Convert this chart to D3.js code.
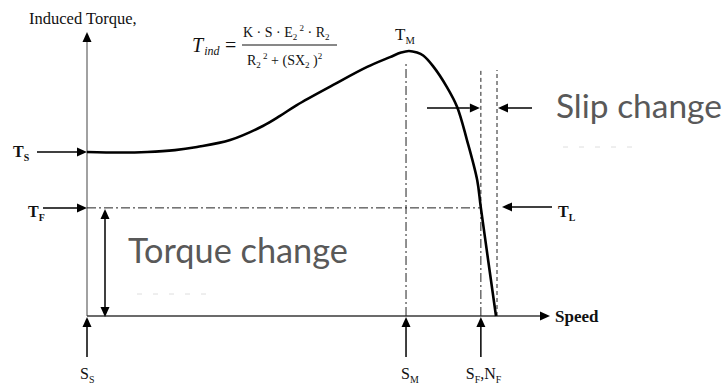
<!DOCTYPE html>
<html>
<head>
<meta charset="utf-8">
<script src="https://cdn.jsdelivr.net/npm/d3@7"></script>
<style>
  html, body { margin: 0; padding: 0; background: #fff; }
  svg { display: block; }
</style>
</head>
<body>
<svg id="chart" width="725" height="387"></svg>
<script>
// Torque–speed characteristic of an induction motor.
// Speed in % of synchronous speed, torque in % of the peak (breakdown) torque.
const speed  = [0, 8.1, 14.7, 21.5, 26.9, 35.0, 43.0, 47.2, 51.3, 60.2, 68.5, 74.1, 76.8, 78.7, 80.7, 82.2, 84.6, 88.0, 90.5, 92.9, 95.4, 96.3, 100];
const torque = [61.9, 61.7, 61.9, 62.6, 63.8, 66.4, 71.7, 75.5, 79.6, 87.2, 94.0, 97.7, 99.4, 100, 99.4, 98.3, 94.3, 86.4, 78.9, 66.4, 51.3, 40.8, 0];

// Characteristic speeds marked on the speed axis
const speedMarks  = ["S_S", "S_M", "S_F,N_F"];
const speedValues = [0, 78.0, 96.3];
const syncSpeed   = 100;

// Characteristic torques marked on the torque axis
const torqueMarks  = ["T_S", "T_F"];
const torqueValues = [61.9, 40.8];
const peakTorque   = 100;

const speedAxisMax  = 113.2;
const torqueAxisMax = 107.2;

const svg = d3.select("#chart");
const x = d3.scaleLinear().domain([0, 100]).range([87, 496]);
const y = d3.scaleLinear().domain([0, 100]).range([316, 51]);

const serif = "'Liberation Serif', 'Times New Roman', serif";
const sans = "Lato, 'Open Sans', sans-serif";

// line with a filled triangular head at (x2, y2)
function arrow(x1, y1, x2, y2, opts = {}) {
  const len = opts.len || 10, hw = opts.hw || 4.5;
  const dx = x2 - x1, dy = y2 - y1, d = Math.hypot(dx, dy);
  const ux = dx / d, uy = dy / d;
  const bx = x2 - ux * len, by = y2 - uy * len;
  svg.append("line")
    .attr("x1", x1).attr("y1", y1).attr("x2", bx).attr("y2", by)
    .attr("stroke", opts.stroke || "#000").attr("stroke-width", opts.width || 1.5);
  svg.append("path")
    .attr("d", `M${x2},${y2}L${bx - uy * hw},${by + ux * hw}L${bx + uy * hw},${by - ux * hw}Z`)
    .attr("fill", "#000");
}

// label with a subscript, e.g. "T_S" → T with S lowered
function subLabel(str, px, py, size, bold, anchor = "start") {
  const t = svg.append("text")
    .attr("x", px).attr("y", py)
    .attr("font-family", serif)
    .attr("font-size", size)
    .attr("font-weight", bold ? "bold" : "normal")
    .attr("text-anchor", anchor)
    .attr("fill", "#111");
  let shift = 0;
  str.split(",").forEach((p, i) => {
    const [base, sub] = p.split("_");
    if (i > 0) { t.append("tspan").attr("dy", -shift).text(","); shift = 0; }
    t.append("tspan").attr("dy", -shift || null).text(base);
    shift = 0;
    if (sub) { t.append("tspan").attr("font-size", size * 0.62).attr("dy", 4).text(sub); shift = 4; }
  });
  return t;
}

// ---- axes ----
const x0 = x(0), y0 = y(0);
arrow(x0, y0, x0, y(torqueAxisMax), { stroke: "#8a8a8a", width: 1.6 });
arrow(x0, y0, x(speedAxisMax), y0, { stroke: "#3a3a3a", width: 1.6 });

svg.append("text").attr("x", 29).attr("y", 24)
  .attr("font-family", serif).attr("font-size", 16.5).attr("fill", "#111")
  .text("Induced Torque,");
svg.append("text").attr("x", x(speedAxisMax) + 5).attr("y", y0 + 6)
  .attr("font-family", serif).attr("font-size", 17).attr("font-weight", "bold").attr("fill", "#111")
  .text("Speed");

// ---- reference lines ----
const dashDot = "9,3,2,3";
const dashed = "4,3";
const sM = speedValues[1], sF = speedValues[2], tF = torqueValues[1];

// full-load torque level
svg.append("line").attr("x1", x0).attr("x2", x(sF)).attr("y1", y(tF)).attr("y2", y(tF))
  .attr("stroke", "#222").attr("stroke-width", 1).attr("stroke-dasharray", dashDot);
// breakdown slip
svg.append("line").attr("x1", x(sM)).attr("x2", x(sM)).attr("y1", y0).attr("y2", 63)
  .attr("stroke", "#222").attr("stroke-width", 1).attr("stroke-dasharray", dashDot);
// full-load slip
svg.append("line").attr("x1", x(sF)).attr("x2", x(sF)).attr("y1", y0).attr("y2", y(tF))
  .attr("stroke", "#222").attr("stroke-width", 1).attr("stroke-dasharray", dashDot);
svg.append("line").attr("x1", x(sF)).attr("x2", x(sF)).attr("y1", y(tF)).attr("y2", 70)
  .attr("stroke", "#222").attr("stroke-width", 1).attr("stroke-dasharray", dashed);
// synchronous speed
svg.append("line").attr("x1", x(syncSpeed) + 1).attr("x2", x(syncSpeed) + 1).attr("y1", y0).attr("y2", 70)
  .attr("stroke", "#222").attr("stroke-width", 1).attr("stroke-dasharray", dashed);

// ---- torque curve ----
const line = d3.line().x((d, i) => x(speed[i])).y(d => y(d)).curve(d3.curveCatmullRom.alpha(0.5));
svg.append("path").attr("d", line(torque))
  .attr("fill", "none").attr("stroke", "#000").attr("stroke-width", 2.6)
  .attr("stroke-linejoin", "round");

// ---- torque markers ----
arrow(37, y(torqueValues[0]), x0, y(torqueValues[0]));
subLabel(torqueMarks[0], 13, y(torqueValues[0]) + 5, 16, true);
arrow(43, y(tF), x0, y(tF));
subLabel(torqueMarks[1], 28, y(tF) + 9, 16, true);
// load torque
arrow(552, y(tF) - 1, x(syncSpeed) + 6, y(tF) - 1);
subLabel("T_L", 558, y(tF) + 9, 16, true);
// peak torque
subLabel("T_M", x(sM) - 11, y(peakTorque) - 11, 17, false);

// ---- speed markers ----
speedValues.forEach(s => arrow(x(s), 357, x(s), y0 + 1));
subLabel(speedMarks[0], x(speedValues[0]) - 7, 379, 16, false);
subLabel(speedMarks[1], x(speedValues[1]) - 5, 379, 16, false);
subLabel(speedMarks[2], x(speedValues[2]) - 15, 379, 16, false);

// ---- change indicators ----
// torque change: double arrow between T_F and zero torque
arrow(105, (y(tF) + y0) / 2, 105, y(tF) + 1);
arrow(105, (y(tF) + y0) / 2, 105, y0 + 1);
// slip change: arrows pointing at the two speed lines
arrow(427, 108, x(sF) - 1, 108);
arrow(532, 108, x(syncSpeed) + 2, 108);

function fitText(str, px, py, targetWidth) {
  const t = svg.append("text").attr("x", px).attr("y", py)
    .attr("font-family", sans).attr("font-size", 30).attr("fill", "#595959").text(str);
  const w = t.node().getComputedTextLength();
  t.attr("font-size", 30 * targetWidth / w);
  return t;
}
fitText("Torque change", 128, 263, 220);
fitText("Slip change", 556, 118, 166);

// faint text-box guides
svg.append("line").attr("x1", 137).attr("x2", 208).attr("y1", 294).attr("y2", 294)
  .attr("stroke", "#dedede").attr("stroke-width", 1).attr("stroke-dasharray", "5,11");
svg.append("line").attr("x1", 563).attr("x2", 632).attr("y1", 147).attr("y2", 147)
  .attr("stroke", "#dedede").attr("stroke-width", 1).attr("stroke-dasharray", "5,11");

// ---- torque equation ----
const eq = svg.append("g").attr("font-family", serif).attr("fill", "#111");
eq.append("text").attr("x", 192).attr("y", 52).attr("font-size", 20).attr("font-style", "italic")
  .call(t => {
    t.append("tspan").text("T");
    t.append("tspan").attr("font-size", 12).attr("dy", 3).attr("dx", 1).text("ind");
  });
eq.append("text").attr("x", 225).attr("y", 52).attr("font-size", 20).text("=");
function mathRow(px, py, pieces) {
  const t = eq.append("text").attr("x", px).attr("y", py).attr("font-size", 14);
  let shift = 0;
  pieces.forEach(([s, kind]) => {
    const target = kind === "sub" ? 3 : kind === "sup" ? -6 : 0;
    const ts = t.append("tspan").attr("dy", target - shift).text(s);
    if (kind) ts.attr("font-size", 9);
    shift = target;
  });
}
mathRow(243, 37, [["K · S · E", null], ["2", "sub"], ["  2", "sup"], ["  · R", null], ["2", "sub"]]);
eq.append("line").attr("x1", 242).attr("x2", 337).attr("y1", 45).attr("y2", 45)
  .attr("stroke", "#111").attr("stroke-width", 1);
mathRow(247, 65, [["R", null], ["2", "sub"], ["  2", "sup"], ["  + (SX", null], ["2", "sub"], [" )", null], ["2", "sup"]]);
</script>
</body>
</html>
